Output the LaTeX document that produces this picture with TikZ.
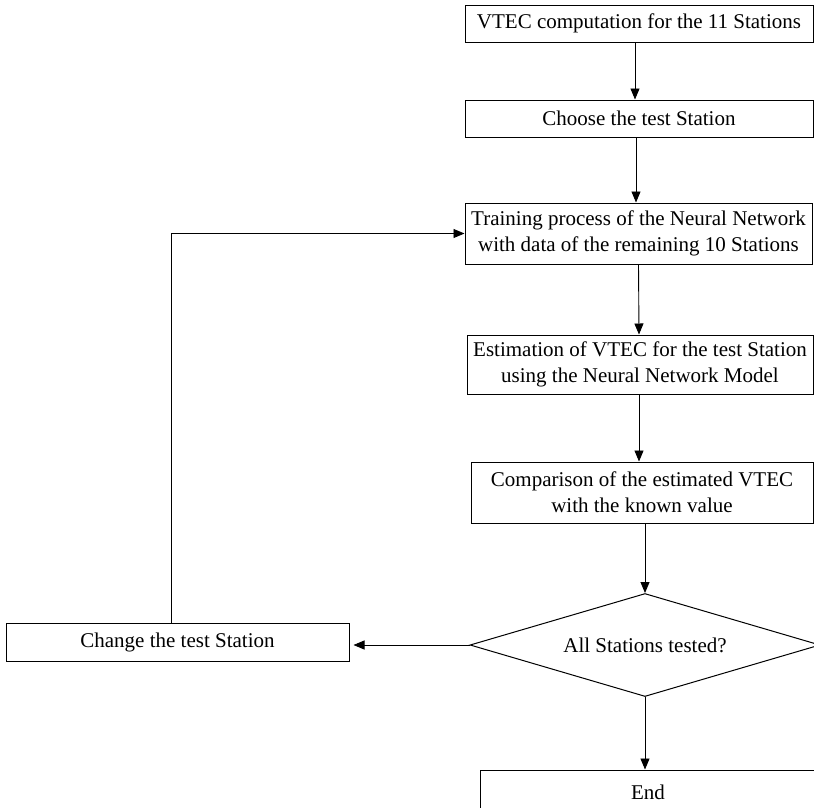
\documentclass[tikz,border=0pt]{standalone}
\usepackage{fontspec}
\setmainfont{Liberation Serif}
\usetikzlibrary{arrows.meta,shapes.geometric}
\begin{document}
\begin{tikzpicture}[x=1pt,y=-1pt,
  every node/.style={font=\fontsize{21}{26}\selectfont},
  box/.style={draw,line width=1pt,rectangle,inner sep=0pt,align=center},
  dec/.style={draw,line width=1pt,shape=diamond,inner sep=0pt,aspect=3.4,minimum width=350pt,minimum height=103pt},
  arr/.style={line width=0.9pt,-{Triangle[length=11pt,width=9pt]}}]
\useasboundingbox (0,0) rectangle (814,807);
\clip (0,0) rectangle (814,807);
\node[box,minimum width=348pt,minimum height=37pt] (b1) at (639,23.5) {VTEC computation for the 11 Stations};
\node[box,minimum width=348pt,minimum height=37pt] (b2) at (639,118.5) {Choose the test Station};
\node[box,minimum width=347pt,minimum height=61pt] (b3) at (638.5,233.5) {Training process of the Neural Network\\with data of the remaining 10 Stations};
\node[box,minimum width=346pt,minimum height=59pt] (b4) at (640,364.5) {Estimation of VTEC for the test Station\\using the Neural Network Model};
\node[box,minimum width=342pt,minimum height=61pt] (b5) at (642,492.5) {Comparison of the estimated VTEC\\with the known value};
\node[dec] (d) at (645,645) {All Stations tested?};
\node[box,minimum width=343pt,minimum height=38pt] (c) at (177.5,642) {Change the test Station};
\node[box,minimum width=336pt,minimum height=44pt] (e) at (648,792) {End};
\draw[arr] ([xshift=-4pt]b1.south) -- ([xshift=-4pt]b2.north);
\draw[arr] ([xshift=-3pt]b2.south) -- ([xshift=-2.5pt]b3.north);
\draw[arr] (b3.south) -- ([xshift=-1pt]b4.north);
\draw[arr] ([xshift=-1pt]b4.south) -- ([xshift=-3pt]b5.north);
\draw[arr] (b5.south -| d.north) -- (d.north);
\draw[arr] (d.south) -- (d.south |- e.north);
\draw[arr,shorten >=4pt] (d.west) -- (d.west -| c.east);
\draw[arr] ([xshift=-6.5pt]c.north) |- (b3.west);
\end{tikzpicture}
\end{document}
